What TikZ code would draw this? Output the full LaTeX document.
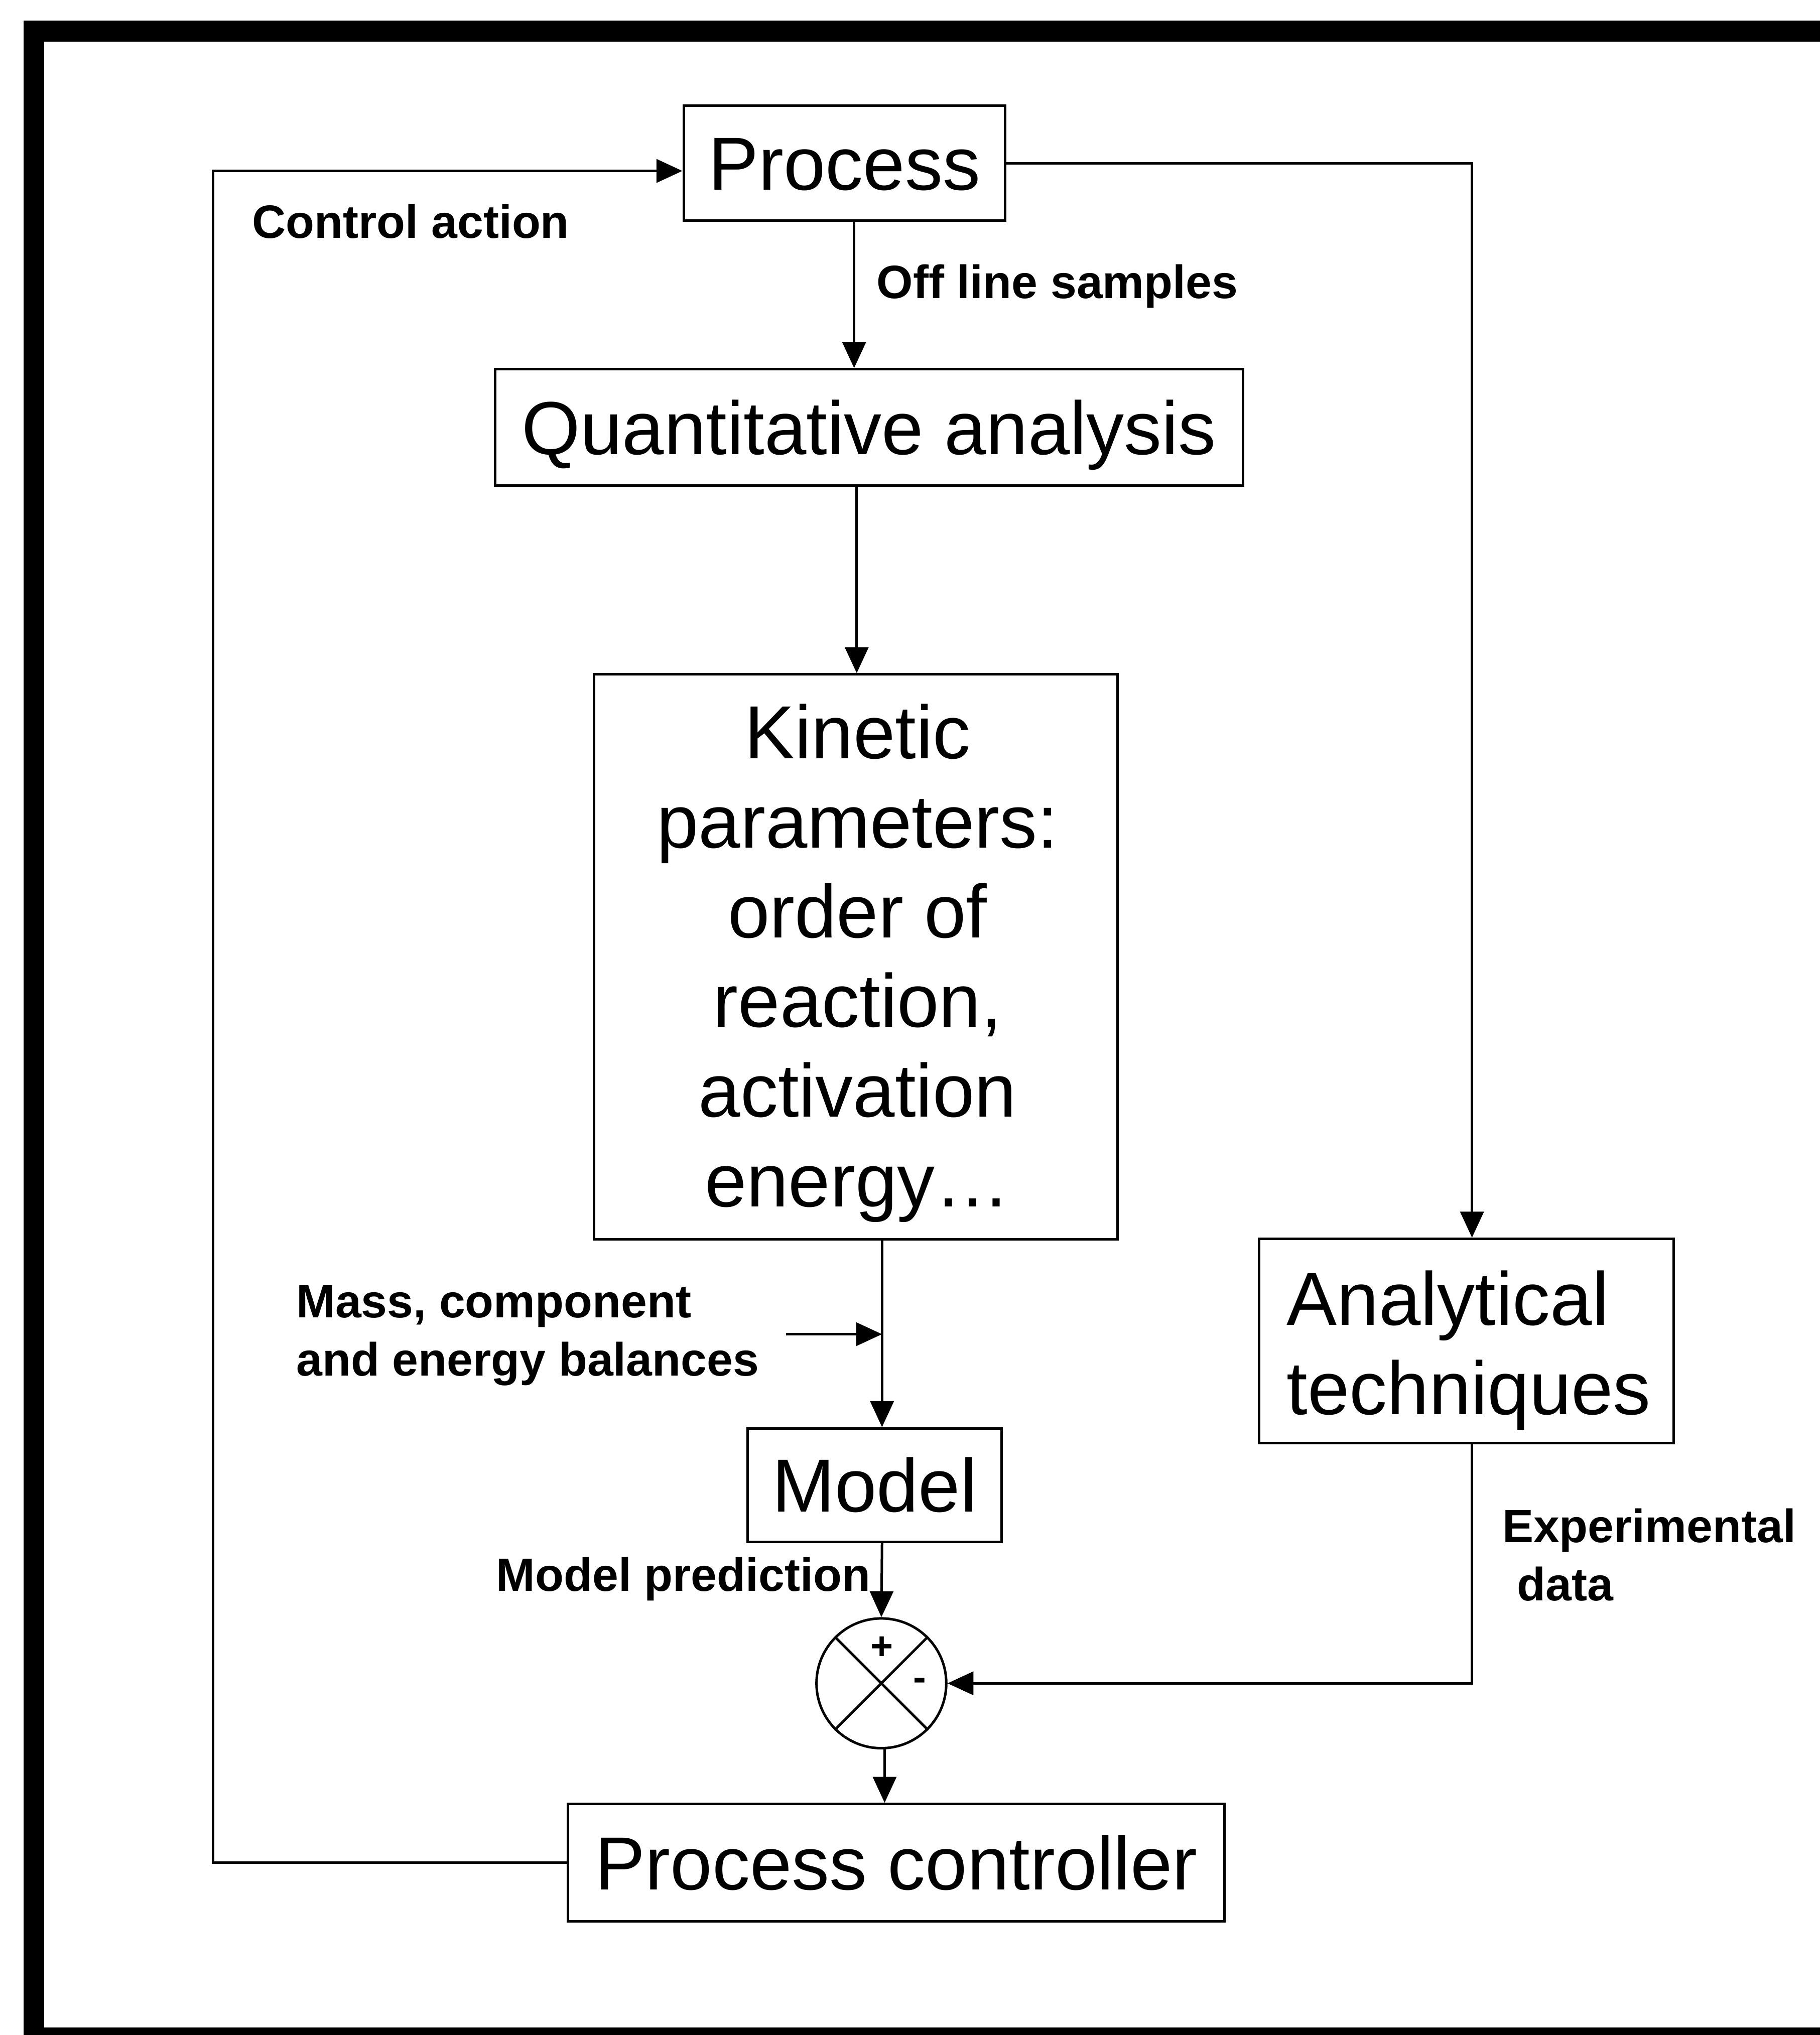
\documentclass[tikz,border=0pt]{standalone}
\usepackage{fontspec}
\setmainfont{Liberation Sans}
\usetikzlibrary{arrows.meta}
\newcommand\bigf{\fontsize{33}{39.3}\selectfont}
\newcommand\smallf{\bfseries\fontsize{20.5}{25.5}\selectfont}
\begin{document}
\begin{tikzpicture}[x=0.02cm,y=-0.02cm,
  box/.style={draw, line width=1.1pt, inner sep=0pt, font=\bigf, text height=23.6pt, text depth=0pt},
  emptybox/.style={draw, line width=1.1pt, inner sep=0pt},
  bigtxt/.style={inner sep=0pt, font=\bigf},
  lbl/.style={inner sep=0pt, font=\smallf},
  conn/.style={line width=1.1pt},
  arr/.style={line width=1.1pt, -{Triangle[length=0.4cm,width=0.36cm]}},
  sgn/.style={inner sep=0pt, font=\bfseries\fontsize{17}{17}\selectfont}
]
\useasboundingbox (0,0) rectangle (1402,1568);
\fill[white] (0,0) rectangle (1402,1568);
% outer frame (open at right and bottom edges of the scan)
\begin{scope}
\clip (0,0) rectangle (1402,1568);
\draw[line width=0.32cm] (1440,24) -- (26,24) -- (26,1570) -- (1440,1570);
\end{scope}

% boxes
\node[box, minimum width=4.954cm, minimum height=1.772cm] (proc) at (650.5,125.7) {Process};
\node[box, minimum width=11.52cm, minimum height=1.79cm] (quant) at (669.5,329.3) {Quantitative analysis};
\node[emptybox, minimum width=8.064cm, minimum height=8.708cm] (kin) at (659.2,737.3) {};
\node[bigtxt, anchor=north, align=center] (kintxt) at (660.6,542) {Kinetic\\parameters:\\order of\\reaction,\\activation\\energy…};
\node[box, minimum width=3.912cm, minimum height=1.75cm] (model) at (673.8,1144.3) {Model};
\node[box, minimum width=10.12cm, minimum height=1.808cm] (ctrl) at (690.5,1435.2) {Process controller};
\node[emptybox, minimum width=6.39cm, minimum height=3.146cm] (anal) at (1129.8,1033.2) {};
\node[bigtxt, anchor=north west, align=left] (analtxt) at (991,978.6) {Analytical\\techniques};

% summing junction
\node[draw, circle, line width=1.1pt, minimum size=2cm, inner sep=0pt] (sum) at (679,1297) {};
\draw[conn] (sum.north west) -- (sum.south east);
\draw[conn] (sum.north east) -- (sum.south west);
\node[sgn] (plus) at (679.6,1269.8) {+};
\node[sgn] (minus) at (708.6,1297.6) {-};

% labels
\node[lbl, anchor=base west] (lctrl) at (194,183.6) {Control action};
\node[lbl, anchor=base west] (loff) at (675,229.7) {Off line samples};
\node[lbl, anchor=north west, align=left] (lmass) at (228,990) {Mass, component\\and energy balances};
\node[lbl, anchor=base west] (lpred) at (382,1226) {Model prediction};
\node[lbl, anchor=north west, align=left] (lexp) at (1157,1162) {Experimental\\\hspace*{6.5pt}data};

% helper coordinates
\coordinate (xa) at (658,0);
\coordinate (xb) at (660,0);
\coordinate (xc) at (679.5,0);
\coordinate (xr) at (1134,0);
\coordinate (xl) at (164,700);
\coordinate (pin) at ([yshift=-0.12cm]proc.west);
\coordinate (massstart) at (605.7,1028);

% connectors
\draw[arr] (proc.south -| xa) -- (quant.north -| xa);
\draw[arr] (quant.south -| xb) -- (kin.north -| xb);
\draw[arr] (kin.south -| xc) -- (model.north -| xc);
\draw[arr] (massstart) -- (massstart -| xc);
\draw[arr] (model.south -| xc) -- (sum.north);
\draw[arr] ([xshift=0.05cm]sum.south) -- ([xshift=0.05cm]sum.south |- ctrl.north);
\draw[arr] (proc.east) -| (anal.north -| xr);
\draw[arr] (anal.south -| xr) |- (sum.east);
\draw[arr] (ctrl.west) -| (xl) |- (pin);
\end{tikzpicture}
\end{document}
